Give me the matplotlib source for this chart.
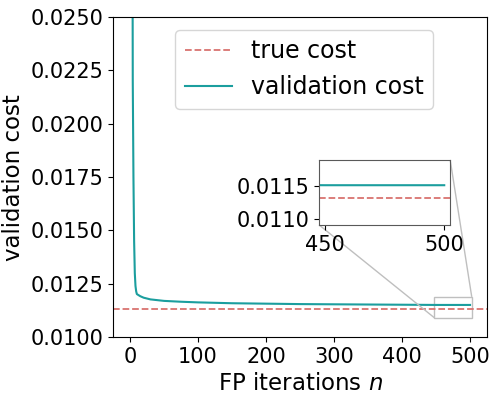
import matplotlib
matplotlib.use("Agg")
import matplotlib.pyplot as plt
import numpy as np
from mpl_toolkits.axes_grid1.inset_locator import mark_inset

# values
n_iter = [1, 2, 3, 4, 5, 6, 7, 8, 9, 10, 15, 20, 30, 50, 75, 100, 150,
          200, 250, 300, 350, 400, 450, 500]
val_cost = [0.0800, 0.0600, 0.0400, 0.0220, 0.0175, 0.0145, 0.0130, 0.0124,
            0.01215, 0.01202, 0.01192, 0.01185, 0.01177, 0.01170, 0.01166,
            0.01163, 0.01159, 0.01157, 0.01155, 0.01154, 0.01153, 0.01152,
            0.01151, 0.01151]
true_cost = 0.01131

teal = '#1b9e9e'
red = '#d9736f'

fig = plt.figure(figsize=(4.98, 3.99), dpi=100)
ax = fig.add_axes([0.227, 0.155, 0.751, 0.802])

ax.axhline(true_cost, color=red, ls='--', lw=1.3, label='true cost')
ax.plot(n_iter, val_cost, color=teal, lw=1.5, label='validation cost')
ax.set_xlim(-25, 525)
ax.set_ylim(0.010, 0.025)
ax.set_yticks(np.arange(0.010, 0.0251, 0.0025))
ax.yaxis.set_major_formatter(matplotlib.ticker.FormatStrFormatter('%.4f'))
ax.set_xticks([0, 100, 200, 300, 400, 500])
ax.tick_params(labelsize=15)
ax.set_xlabel('FP iterations $n$', fontsize=16.5)
ax.set_ylabel('validation cost', fontsize=16.5)
ax.legend(loc='upper right', fontsize=17, bbox_to_anchor=(0.856, 0.96),
          borderaxespad=0)

# zoomed inset
axins = fig.add_axes([0.641, 0.436, 0.263, 0.163])
axins.axhline(true_cost, color=red, ls='--', lw=1.3)
axins.plot(n_iter, val_cost, color=teal, lw=1.5)
axins.set_xlim(447.5, 502.5)
axins.set_ylim(0.01091, 0.01189)
axins.set_xticks([450, 500])
axins.set_yticks([0.0110, 0.0115])
axins.yaxis.set_major_formatter(matplotlib.ticker.FormatStrFormatter('%.4f'))
axins.tick_params(labelsize=15)
for sp in axins.spines.values():
    sp.set_edgecolor('0.35')
mark_inset(ax, axins, loc1=1, loc2=3, fc='none', ec='0.75')

fig.savefig('out.png', dpi=100)
